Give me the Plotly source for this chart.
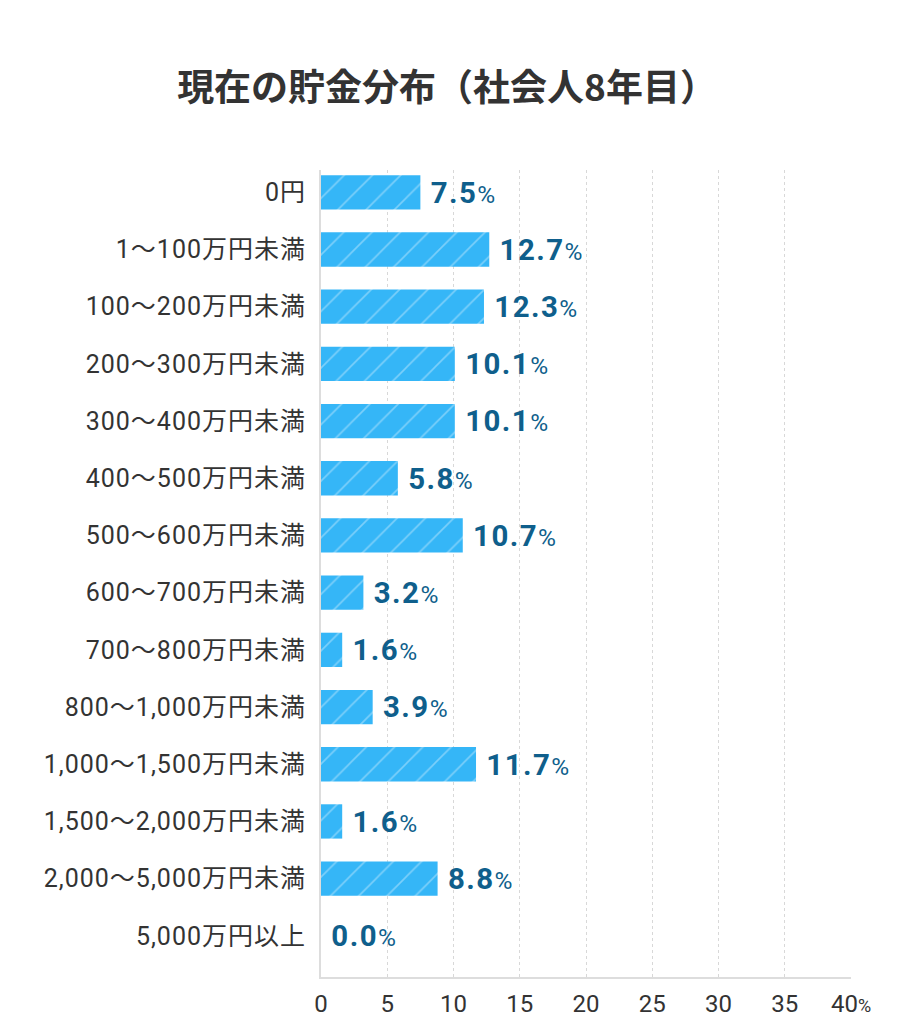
import plotly.graph_objects as go

# --- data ---
categories = [
    "0円", "1～100万円未満", "100～200万円未満", "200～300万円未満",
    "300～400万円未満", "400～500万円未満", "500～600万円未満",
    "600～700万円未満", "700～800万円未満", "800～1,000万円未満",
    "1,000～1,500万円未満", "1,500～2,000万円未満", "2,000～5,000万円未満",
    "5,000万円以上",
]
shares = [7.5, 12.7, 12.3, 10.1, 10.1, 5.8, 10.7, 3.2, 1.6, 3.9, 11.7, 1.6, 8.8, 0.0]
tick_vals = [0, 5, 10, 15, 20, 25, 30, 35, 40]
tick_text = ["0", "5", "10", "15", "20", "25", "30", "35", "40<span style='font-size:18px'>%</span>"]

FONT = "Roboto, 'Noto Sans CJK JP', sans-serif"
BAR_COLOR = "#35b6f7"
LABEL_COLOR = "#0f5f8c"

# slightly spaced category labels, like the original
cat_labels = ["<span style='letter-spacing:1px'>%s</span>" % c for c in categories]

fig = go.Figure()
fig.add_trace(go.Bar(
    x=shares,
    y=categories,
    orientation="h",
    width=0.6,
    marker=dict(
        color=BAR_COLOR,
        line=dict(width=0),
        pattern=dict(shape="/", fgcolor="rgba(255,255,255,0.7)", bgcolor=BAR_COLOR,
                     size=20, solidity=0.08),
    ),
    texttemplate=(" <span style='letter-spacing:1.5px'><b>%{x:.1f}</b></span>"
                  "<span style='font-size:25px'>%</span>"),
    textposition="outside",
    textfont=dict(family=FONT, size=30, color=LABEL_COLOR),
    cliponaxis=False,
    hoverinfo="skip",
))

# page body adds ~8px offset, so margins are trimmed accordingly
fig.update_layout(
    width=909,
    height=1024,
    paper_bgcolor="white",
    plot_bgcolor="white",
    margin=dict(l=313, r=66, t=162, b=55),
    showlegend=False,
    title=dict(
        text="<b>現在の貯金分布（社会人8年目）</b>",
        x=0.483, xanchor="center", y=0.922, yanchor="middle",
        font=dict(family="'Noto Sans CJK JP', sans-serif", size=37, color="#333333"),
    ),
    xaxis=dict(
        range=[0, 40],
        tickvals=tick_vals,
        ticktext=tick_text,
        tickfont=dict(family=FONT, size=24, color="#333333"),
        showgrid=True,
        gridcolor="#d8d8d8",
        griddash="dot",
        gridwidth=1,
        zeroline=False,
        showline=True,
        linecolor="#dddddd",
        linewidth=2,
        ticks="",
        ticklabelstandoff=4,
    ),
    yaxis=dict(
        categoryorder="array",
        categoryarray=categories,
        tickvals=categories,
        ticktext=cat_labels,
        range=[13.72, -0.39],
        tickfont=dict(family=FONT, size=25, color="#333333"),
        showgrid=False,
        showline=True,
        linecolor="#dddddd",
        linewidth=2,
        ticks="",
        ticklabelstandoff=8,
    ),
)

fig.write_html("out.html")
